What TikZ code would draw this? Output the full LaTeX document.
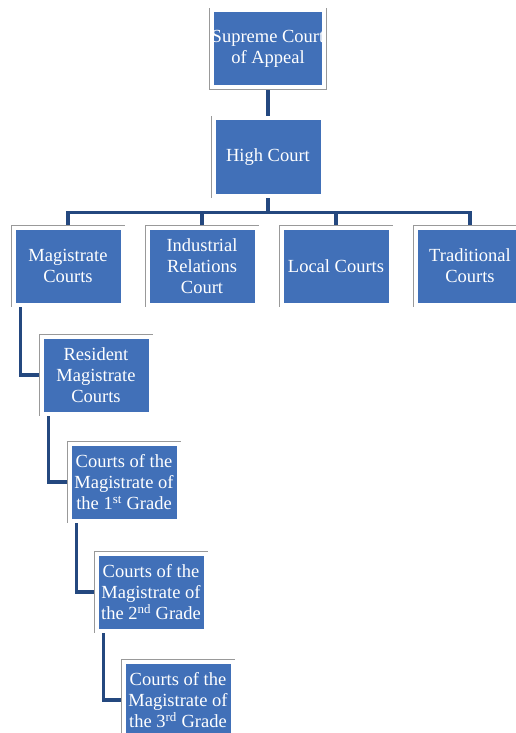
\documentclass[tikz,border=0pt]{standalone}
\usepackage{fontspec}
\setmainfont{Liberation Serif}
\usetikzlibrary{backgrounds}
\definecolor{courtblue}{HTML}{4170B8}
\definecolor{linkblue}{HTML}{24487F}
\begin{document}
\begin{tikzpicture}
[x=1pt,y=-1pt,
court/.style = {fill=courtblue, draw=white, line width=4pt, text=white, align=center,
  minimum width=109pt, minimum height=77pt, inner sep=0pt,
  font=\fontsize{18.5}{21}\selectfont, preaction={draw=gray!80, line width=5pt}},
link/.style = {draw=linkblue, line width=3.5pt},]
\useasboundingbox (0,0) rectangle (516,733);
\node (supreme) at (268,49)[court] {Supreme Court\\of Appeal};
\node (high) at (268,157)[court] {High Court};
\node (mag) at (68,266)[court] {Magistrate\\Courts};
\node (ind) at (202,266)[court] {Industrial\\Relations\\Court};
\node (local) at (336,266)[court] {Local Courts};
\node (trad) at (470,266)[court] {Traditional\\Courts};
\node (res) at (96,375)[court] {Resident\\Magistrate\\Courts};
\node (first) at (124,482)[court] {Courts of the\\Magistrate of\\the 1\textsuperscript{st} Grade};
\node (second) at (151,592)[court] {Courts of the\\Magistrate of\\the 2\textsuperscript{nd} Grade};
\node (third) at (178,700)[court] {Courts of the\\Magistrate of\\the 3\textsuperscript{rd} Grade};
\begin{scope}[on background layer]
\draw[link] (supreme) -- (high);
\draw[link] (high.south) -- ++(0,15) -| (mag.north);
\draw[link] (high.south) -- ++(0,15) -| (ind.north);
\draw[link] (high.south) -- ++(0,15) -| (local.north);
\draw[link] (high.south) -- ++(0,15) -| (trad.north);
\draw[link] ([xshift=9pt]mag.south west) |- (res.west);
\draw[link] ([xshift=9pt]res.south west) |- (first.west);
\draw[link] ([xshift=9pt]first.south west) |- (second.west);
\draw[link] ([xshift=9pt]second.south west) |- (third.west);
\end{scope}
\end{tikzpicture}
\end{document}
